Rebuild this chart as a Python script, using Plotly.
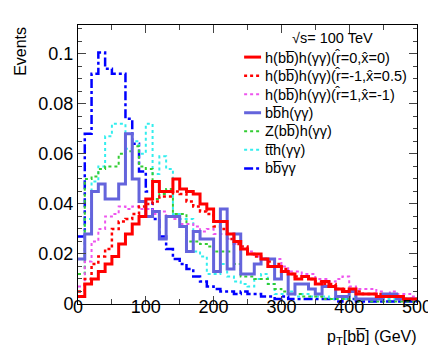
import numpy as np
import plotly.graph_objects as go

# bin edges in GeV (10 GeV bins, 0-500)
edges = np.arange(0, 510, 10)

h_r0 = [0.003,0.008,0.010,0.013,0.016,0.019,0.024,0.028,0.032,0.035,
        0.042,0.049,0.045,0.045,0.050,0.046,0.045,0.044,0.040,0.038,
        0.033,0.033,0.028,0.025,0.022,0.020,0.020,0.018,0.015,0.015,
        0.013,0.012,0.010,0.011,0.010,0.008,0.009,0.007,0.006,0.005,
        0.006,0.004,0.004,0.004,0.003,0.003,0.003,0.003,0.002,0.002]
h_rm1 = [0.005,0.010,0.016,0.019,0.022,0.030,0.033,0.034,0.036,0.039,
         0.040,0.041,0.043,0.043,0.045,0.044,0.041,0.039,0.037,0.036,
         0.031,0.030,0.026,0.024,0.023,0.020,0.019,0.018,0.017,0.016,
         0.014,0.012,0.011,0.011,0.010,0.009,0.008,0.008,0.006,0.006,
         0.005,0.005,0.004,0.004,0.004,0.003,0.003,0.003,0.002,0.002]
h_r1 = [0.007,0.017,0.025,0.030,0.035,0.036,0.039,0.038,0.039,0.038,
        0.038,0.036,0.037,0.035,0.034,0.032,0.032,0.031,0.029,0.030,
        0.028,0.028,0.026,0.024,0.022,0.021,0.019,0.018,0.018,0.018,
        0.015,0.013,0.013,0.012,0.012,0.010,0.010,0.009,0.010,0.011,
        0.007,0.006,0.006,0.006,0.005,0.004,0.005,0.004,0.004,0.003]
bbh = [0.018,0.028,0.045,0.048,0.042,0.042,0.048,0.068,0.050,0.041,
       0.035,0.037,0.026,0.035,0.035,0.031,0.021,0.029,0.026,0.026,
       0.013,0.038,0.014,0.028,0.012,0.012,0.016,0.018,0.018,0.010,
       0.013,0.004,0.008,0.008,0.006,0.004,0.007,0.007,0.003,0.003,
       0.005,0.002,0.002,0.002,0.002,0.004,0.004,0.002,0.002,0.002]
zh = [0.012,0.050,0.051,0.054,0.055,0.055,0.060,0.061,0.063,0.055,
      0.054,0.042,0.044,0.046,0.036,0.036,0.025,0.025,0.024,0.023,
      0.021,0.021,0.021,0.016,0.011,0.011,0.010,0.010,0.008,0.006,
      0.005,0.004,0.004,0.003,0.003,0.003,0.002,0.002,0.002,0.002,
      0.002,0.001,0.002,0.001,0.001,0.001,0.001,0.001,0.001,0.001]
tth = [0.012,0.034,0.049,0.055,0.067,0.072,0.072,0.062,0.065,0.060,
       0.072,0.052,0.059,0.054,0.036,0.034,0.034,0.021,0.019,0.012,
       0.012,0.016,0.011,0.009,0.008,0.007,0.010,0.012,0.008,0.004,
       0.004,0.005,0.003,0.004,0.003,0.003,0.003,0.002,0.003,0.002,
       0.003,0.002,0.002,0.002,0.002,0.002,0.002,0.003,0.002,0.002]
bbaa = [0.027,0.068,0.092,0.1005,0.094,0.092,0.092,0.074,0.064,0.053,
        0.045,0.034,0.027,0.022,0.018,0.016,0.014,0.011,0.009,0.007,
        0.006,0.005,0.005,0.004,0.005,0.004,0.004,0.003,0.003,0.002,
        0.003,0.002,0.002,0.002,0.002,0.002,0.002,0.002,0.001,0.002,
        0.002,0.001,0.001,0.001,0.001,0.001,0.001,0.001,0.001,0.001]

B = "bb\u0305"
names = {
    "r0": "h(" + B + ")h(γγ)(r\u0302=0,x\u0302=0)",
    "rm1": "h(" + B + ")h(γγ)(r\u0302=-1,x\u0302=0.5)",
    "r1": "h(" + B + ")h(γγ)(r\u0302=1,x\u0302=-1)",
    "bbh": B + "h(γγ)",
    "zh": "Z(" + B + ")h(γγ)",
    "tth": "tt\u0305h(γγ)",
    "bbaa": B + "γγ",
}
legend_order = ["r0", "rm1", "r1", "bbh", "zh", "tth", "bbaa"]

styles = {
    "bbaa": ("#0000ff", "dashdot", 2.5),
    "tth": ("#33eeee", "dot", 2),
    "zh": ("#33cc33", "dot", 2),
    "r1": ("#ee55ee", "dot", 2),
    "rm1": ("#ff0000", "dot", 2.5),
    "bbh": ("#6464dc", "solid", 3),
    "r0": ("#ff0000", "solid", 3),
}
values = {"r0": h_r0, "rm1": h_rm1, "r1": h_r1, "bbh": bbh,
          "zh": zh, "tth": tth, "bbaa": bbaa}
draw_order = ["bbaa", "tth", "zh", "r1", "rm1", "bbh", "r0"]

fig = go.Figure()
for key in draw_order:
    col, dash, w = styles[key]
    vals = values[key]
    fig.add_trace(go.Scatter(
        x=edges, y=list(vals) + [vals[-1]], mode="lines",
        line=dict(shape="hv", color=col, dash=dash, width=w),
        name=names[key], showlegend=False))

# hand-made legend (ROOT style, short line samples)
annots = []
shapes = []
row_top = 0.885
row_step = 0.0665
for i, key in enumerate(legend_order):
    col, dash, w = styles[key]
    yy = row_top - i * row_step
    shapes.append(dict(type="line", xref="paper", yref="paper",
                       x0=0.49, x1=0.54, y0=yy, y1=yy,
                       line=dict(color=col, dash=dash, width=w)))
    annots.append(dict(text=names[key], xref="paper", yref="paper",
                       x=0.545, y=yy, xanchor="left", yanchor="middle",
                       showarrow=False, font=dict(size=14.5)))
annots.append(dict(text="√s= 100 TeV", xref="paper", yref="paper",
                   x=0.75, y=0.955, xanchor="center", yanchor="middle",
                   showarrow=False, font=dict(size=14.5)))
annots.append(dict(text="Events", xref="paper", yref="paper", x=-0.17, y=1.0,
                   xanchor="center", yanchor="top", textangle=-90,
                   showarrow=False, font=dict(size=16)))
annots.append(dict(text="p<sub>T</sub>[" + B + "] (GeV)", xref="paper", yref="paper",
                   x=1.005, y=-0.12, xanchor="right", yanchor="middle",
                   showarrow=False, font=dict(size=16)))

font = "Liberation Sans, Arial, sans-serif"
fig.update_layout(
    width=436, height=354,
    margin=dict(l=70, r=23, t=17, b=58),
    plot_bgcolor="white", paper_bgcolor="white",
    font=dict(family=font, color="black"),
    showlegend=False,
    xaxis=dict(range=[0, 500], dtick=100, ticks="inside", ticklen=8,
               showline=True, linecolor="black", linewidth=1, mirror="ticks",
               showgrid=False, zeroline=False, tickfont=dict(size=18),
               ticklabelstandoff=-14,
               minor=dict(dtick=50, ticks="inside", ticklen=5, showgrid=False)),
    yaxis=dict(range=[0, 0.1115], tickvals=[0, 0.02, 0.04, 0.06, 0.08, 0.1],
               ticktext=["0", "0.02", "0.04", "0.06", "0.08", "0.1"],
               ticks="inside", ticklen=8,
               showline=True, linecolor="black", linewidth=1, mirror="ticks",
               showgrid=False, zeroline=False, tickfont=dict(size=18),
               minor=dict(dtick=0.005, tick0=0, ticks="inside", ticklen=4, showgrid=False)),
    annotations=annots,
    shapes=shapes,
)

fig.write_html("out.html")
